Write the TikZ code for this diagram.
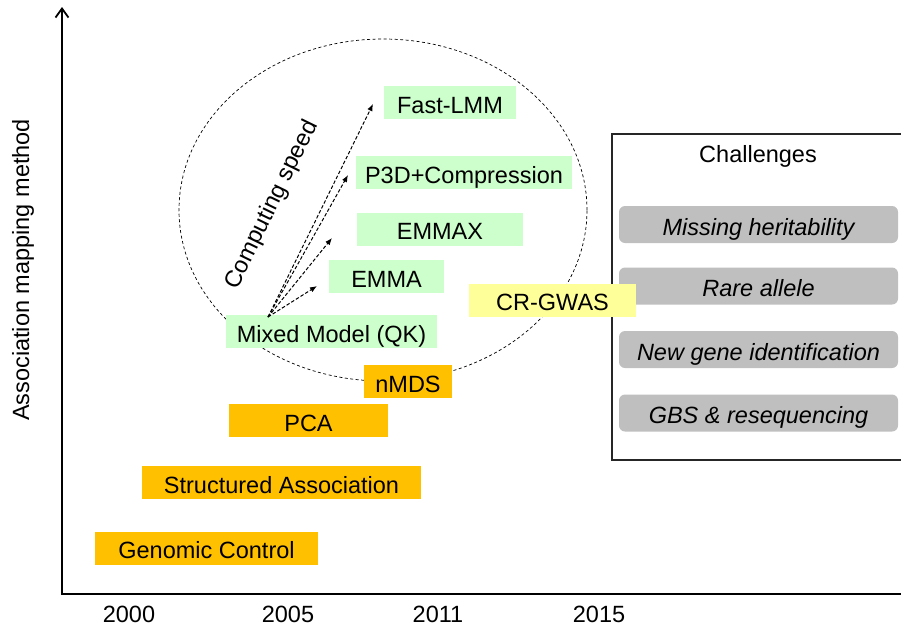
\documentclass[tikz,border=0pt]{standalone}
\usepackage{fontspec}
\setmainfont{Liberation Sans}
\usetikzlibrary{arrows.meta,shapes.geometric}
\definecolor{cOld} {HTML}{FFC000}
\definecolor{cMix} {HTML}{CCFFCC}
\definecolor{cNew} {HTML}{FFFF99}
\definecolor{cChl} {HTML}{BFBFBF}
\tikzset{
  txt/.style   ={font=\fontsize{23.5}{28}\selectfont,inner sep=0pt},
  meth/.style  ={txt,align=center,minimum height=33pt,text height=24pt,text depth=3pt},
  old/.style   ={meth,fill=cOld},
  mix/.style   ={meth,fill=cMix},
  newm/.style  ={meth,fill=cNew},
  chl/.style   ={meth,fill=cChl,rounded corners=6pt,minimum width=279pt,
                 minimum height=37pt,font=\fontsize{23.5}{28}\selectfont\itshape},
  axis/.style  ={draw=black,line width=1.8pt},
  ring/.style  ={ellipse,draw=black,line width=0.7pt,dash pattern=on 3pt off 2.5pt},
  speed/.style ={-{Latex[length=7pt,width=5.5pt]},draw=black,line width=1pt,
                 dash pattern=on 3.5pt off 2pt},
  frame/.style ={draw=black!85,line width=1.1pt},
}

\begin{document}
\begin{tikzpicture}[x=1pt, y=-1pt]
\useasboundingbox (0,0) rectangle (901,630);

% ===== axes ================================================================
\coordinate (org)  at (62,594);
\coordinate (ytop) at (62,7);
\coordinate (xend) at (901,594);
\draw[axis,-{Straight Barb[length=9pt,width=13pt]}] (xend) -- (org) -- (ytop);
\node[txt,rotate=90] (ylab) at (23,270) {Association mapping method};
\foreach \yr/\x in {2000/129, 2005/288, 2011/438, 2015/599}{%
  \node[txt] (yr\yr) at (\x,614) {\yr};
}

% ===== challenges ==========================================================
\coordinate (chNE) at (901,134);
\coordinate (chSW) at (612,460);
\draw[frame] (chNE) -| (chSW) -- (chSW -| chNE);
\node[txt] (chT) at (758,156) {Challenges};
\node[chl] (ch1) at (758.5,224.5) {Missing heritability};
\node[chl] (ch2) at (758.5,286)   {Rare allele};
\node[chl] (ch3) at (758.5,349.5) {New gene identification};
\node[chl] (ch4) at (758.5,413)   {GBS \& resequencing};

% ===== computing-speed ring ================================================
\node[ring,minimum width=408pt,minimum height=342pt] (ring) at (383,210) {};

% ===== methods =============================================================
\node[old,minimum width=223pt] (gc)   at (206.5,548)   {Genomic Control};
\node[old,minimum width=279pt] (sa)   at (281.5,482.5) {Structured Association};
\node[old,minimum width=159pt] (pca)  at (308.5,420.5) {PCA};
\node[old,minimum width=88pt]  (nmds) at (408,381.5)   {nMDS};
\node[mix,minimum width=211pt] (qk)   at (331.5,331.5) {Mixed Model (QK)};
\node[mix,minimum width=115pt] (emma) at (386.5,276.5) {EMMA};
\node[mix,minimum width=166pt] (emx)  at (440,229)     {EMMAX};
\node[mix,minimum width=216pt] (p3d)  at (464,172.5)   {P3D+Compression};
\node[mix,minimum width=132pt] (flmm) at (450,102.5)   {Fast-LMM};
\node[newm,minimum width=167pt] (cr)  at (552.5,300)   {CR-GWAS};

% ===== speed-up arrows =====================================================
\coordinate (qkTop) at (268,317);
\coordinate (tEmma) at (317,286);
\coordinate (tEmx)  at (332,238);
\coordinate (tP3d)  at (348,175);
\coordinate (tFlmm) at (373,104);
\foreach \t in {tEmma, tEmx, tP3d, tFlmm}{\draw[speed] (qkTop) -- (\t);}
\node[txt,rotate=64] (spd) at (272,205) {Computing speed};
\end{tikzpicture}
\end{document}
